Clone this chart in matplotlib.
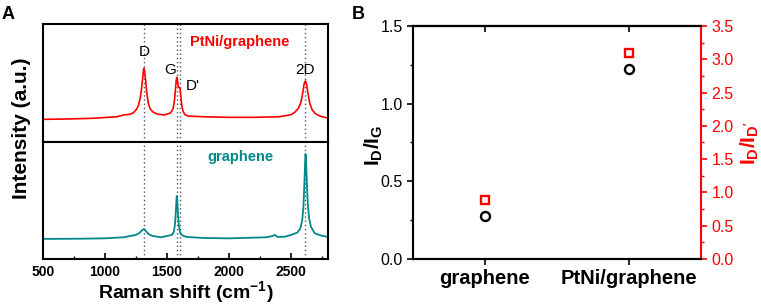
import matplotlib
matplotlib.use("Agg")
import matplotlib.pyplot as plt
from matplotlib.ticker import MultipleLocator

# --- panel A: Raman spectra (intensity in a.u.) ---
shift_ptni = [500, 700, 900, 1100, 1150, 1200, 1230, 1255, 1270, 1285, 1295, 1305,
              1312, 1315, 1320, 1328, 1338, 1350, 1365, 1385, 1420, 1480, 1530,
              1550, 1560, 1568, 1575, 1580, 1585, 1592, 1600, 1606, 1612, 1620,
              1630, 1645, 1670, 1800, 2000, 2200, 2400, 2450, 2500, 2530, 2560,
              2580, 2595, 2605, 2615, 2625, 2635, 2650, 2670, 2700, 2740, 2800]
int_ptni = [19.0, 19.3, 19.9, 21.2, 22.7, 23.3, 24.5, 27.5, 30.5, 37.0, 44.0, 54.0,
            61.0, 62.4, 60.0, 53.0, 42.0, 33.0, 28.0, 25.5, 23.5, 22.7, 24.5,
            28.0, 34.0, 43.0, 51.5, 54.7, 52.0, 47.0, 46.0, 45.0, 39.0, 31.0,
            26.0, 23.0, 21.8, 21.2, 20.7, 20.7, 21.2, 22.0, 23.0, 25.0, 28.5,
            33.5, 42.0, 49.0, 51.6, 49.0, 42.0, 33.0, 27.0, 23.5, 21.5, 20.0]

shift_gr = [500, 800, 1000, 1150, 1250, 1280, 1300, 1315, 1330, 1350, 1380, 1450,
            1540, 1555, 1565, 1572, 1577, 1580, 1584, 1590, 1597, 1607, 1625, 1660,
            1800, 2000, 2300, 2350, 2370, 2390, 2450, 2500, 2550, 2575, 2590, 2600,
            2607, 2613, 2617, 2621, 2627, 2635, 2645, 2660, 2690, 2740, 2800]
int_gr = [17.1, 17.3, 17.6, 18.5, 20.5, 22.3, 24.5, 25.6, 24.0, 21.5, 19.8, 18.5,
          20.5, 23.0, 29.0, 40.0, 50.0, 53.7, 49.0, 38.0, 28.0, 22.5, 20.0, 18.8,
          17.9, 17.6, 18.5, 19.6, 20.5, 18.8, 19.0, 20.5, 22.5, 26.0, 33.0, 45.0,
          63.0, 82.0, 89.5, 83.0, 66.0, 47.0, 35.0, 27.5, 22.0, 20.0, 18.8]

peak_names = ["D", "G", "D'", "2D"]
peak_pos = [1317, 1579, 1604, 2615]
label_x = [1317, 1523, 1705, 2616]
label_y = [76.5, 60.9, 47.3, 60.9]

# --- panel B: intensity ratios ---
samples = ["graphene", "PtNi/graphene"]
ratio_dg = [0.28, 1.22]
ratio_ddp = [0.89, 3.09]

RED = "#ff0000"
TEAL = "#00898a"

plt.rcParams["font.family"] = ["Liberation Sans", "DejaVu Sans"]
plt.rcParams["mathtext.fontset"] = "custom"
plt.rcParams["mathtext.rm"] = "Liberation Sans"
plt.rcParams["mathtext.bf"] = "Liberation Sans:bold"
plt.rcParams["axes.linewidth"] = 1.5

fig = plt.figure(figsize=(7.61, 3.08), dpi=100)

ax_top = fig.add_axes([0.0561, 0.5399, 0.3753, 0.3821])
ax_bot = fig.add_axes([0.0561, 0.1591, 0.3753, 0.3808], sharex=ax_top)

ax_top.plot(shift_ptni, int_ptni, color=RED, lw=1.2)
ax_bot.plot(shift_gr, int_gr, color=TEAL, lw=1.3)

for ax in (ax_top, ax_bot):
    ax.set_ylim(0, 100)
    ax.set_yticks([])
    for p in peak_pos:
        ax.axvline(p, color="#555555", ls=(0, (1, 2)), lw=1.0, zorder=0)

ax_top.set_xlim(500, 2800)
ax_top.tick_params(axis="x", which="both", bottom=False, labelbottom=False)
ax_bot.xaxis.set_major_locator(MultipleLocator(500))
ax_bot.xaxis.set_minor_locator(MultipleLocator(250))
ax_bot.tick_params(axis="x", which="major", direction="in", length=4, width=1.2,
                   labelsize=10, pad=4)
ax_bot.tick_params(axis="x", which="minor", direction="in", length=2.5, width=1.0)
for lab in ax_bot.get_xticklabels():
    lab.set_fontweight("bold")

for name, x, y in zip(peak_names, label_x, label_y):
    ax_top.text(x, y, name, ha="center", va="center", fontsize=11)

ax_top.text(2085, 85, "PtNi/graphene", color=RED, fontsize=10.5,
            fontweight="bold", ha="center", va="center")
ax_bot.text(2095, 86.7, "graphene", color=TEAL, fontsize=10.5,
            fontweight="bold", ha="center", va="center")

fig.text(0.0289, 1 - 128 / 308, "Intensity (a.u.)", rotation=90, fontsize=15,
         fontweight="bold", ha="center", va="center")
fig.text(0.2438, 1 - 299 / 308, r"Raman shift (cm$^{\mathbf{-1}}$)", fontsize=14,
         fontweight="bold", ha="center", va="baseline")

# --- panel B ---
ax_b = fig.add_axes([0.5427, 0.1591, 0.3784, 0.7565])
ax_r = ax_b.twinx()
xpos = list(range(len(samples)))

ax_b.plot(xpos, ratio_dg, ls="none", marker="o", ms=6.5, mfc="none",
          mec="black", mew=1.7, zorder=3)
ax_r.plot(xpos, ratio_ddp, ls="none", marker="s", ms=6, mfc="none",
          mec=RED, mew=1.7, zorder=3)

ax_b.set_xlim(-0.5, 1.5)
ax_b.set_ylim(0, 1.5)
ax_r.set_ylim(0, 3.5)
ax_b.set_xticks(xpos)
ax_b.set_xticklabels(samples, fontsize=14.5, fontweight="bold")
ax_b.tick_params(axis="x", direction="out", length=4, width=1.2, pad=3)
top = ax_b.secondary_xaxis("top")
top.set_xticks(xpos)
top.set_xticklabels([])
top.tick_params(direction="in", length=4, width=1.2)

ax_b.yaxis.set_major_locator(MultipleLocator(0.5))
ax_b.yaxis.set_minor_locator(MultipleLocator(0.25))
ax_b.tick_params(axis="y", which="major", direction="out", length=4, width=1.2,
                 labelsize=11.5)
ax_b.tick_params(axis="y", which="minor", direction="out", length=2.5, width=1.0)

ax_r.yaxis.set_major_locator(MultipleLocator(0.5))
ax_r.yaxis.set_minor_locator(MultipleLocator(0.25))
ax_r.tick_params(axis="y", which="major", direction="out", length=4, width=1.2,
                 labelsize=11.5, colors=RED)
ax_r.tick_params(axis="y", which="minor", direction="out", length=2.5, width=1.0,
                 colors=RED)
ax_r.spines["right"].set_color(RED)
ax_b.spines["right"].set_visible(False)

fig.text(374 / 761, 1 - 145 / 308, r"$\mathbf{I_D/I_G}$", rotation=90,
         fontsize=15, ha="center", va="center")
fig.text(750 / 761, 1 - 143 / 308, r"$\mathbf{I_D/I_{D'}}$", rotation=90,
         fontsize=15, ha="center", va="center", color=RED)

fig.text(2 / 761, 1 - 6 / 308, "A", fontsize=13, fontweight="bold", va="top")
fig.text(352 / 761, 1 - 6 / 308, "B", fontsize=13, fontweight="bold", va="top")

fig.savefig("out.png", dpi=100)
